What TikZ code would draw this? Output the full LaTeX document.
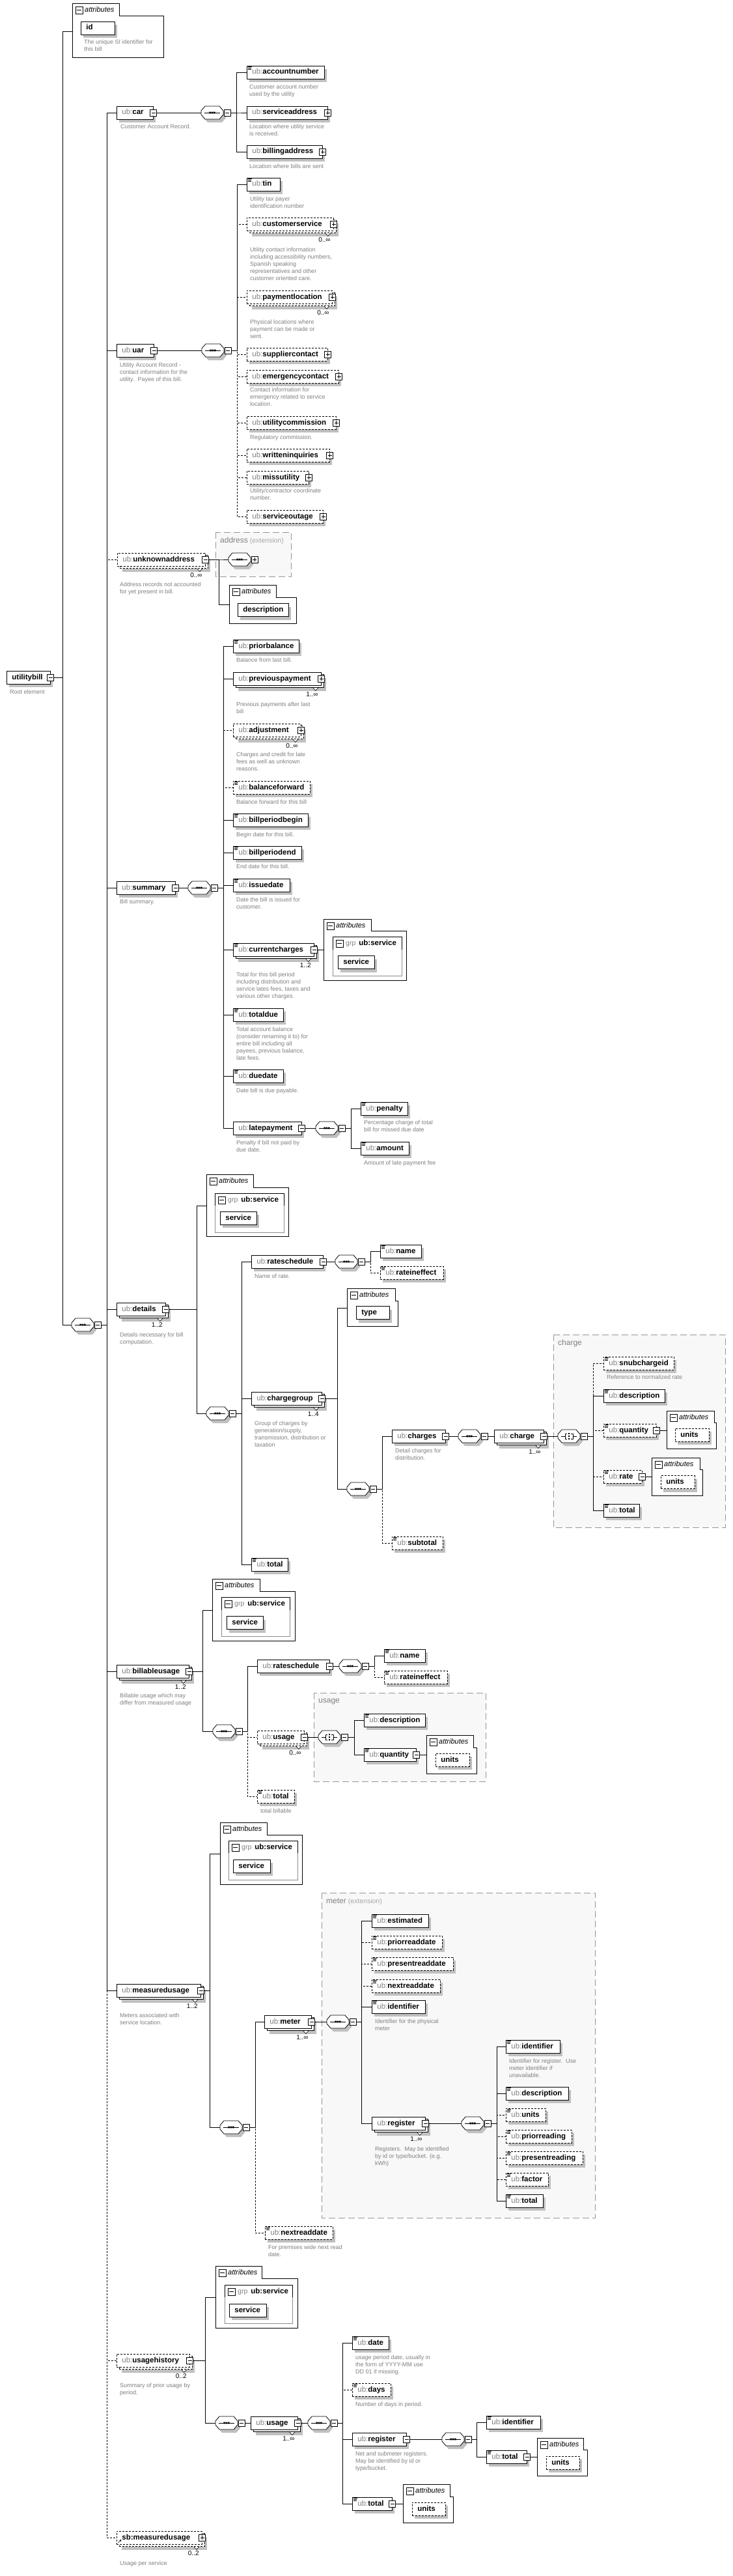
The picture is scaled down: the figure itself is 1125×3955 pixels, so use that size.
\documentclass[tikz,border=0pt]{standalone}
\usepackage{fontspec}
\setmainfont{Liberation Sans}
\usetikzlibrary{shadows}
\definecolor{shg}{RGB}{192,192,192}
\definecolor{pfx}{RGB}{128,128,128}
\definecolor{dsc}{RGB}{128,128,128}
\definecolor{extfill}{RGB}{248,248,248}
\definecolor{extline}{RGB}{150,150,150}
\definecolor{grpline}{RGB}{140,140,140}
\newcommand\lblfont{\fontsize{11.5}{13}\selectfont\bfseries}
\newcommand\xUB[1]{{\mdseries\color{pfx}ub:}#1}
\tikzset{
  elbox/.style={draw, fill=white, anchor=west, minimum height=20pt, inner xsep=8pt, inner ysep=0pt,
    text height=8.5pt, text depth=2.5pt, align=left, font=\lblfont, line width=0.8pt},
  sgl/.style={drop shadow={shadow xshift=4pt, shadow yshift=-5pt, fill=shg, opacity=1}},
  mult/.style={drop shadow={shadow xshift=7.5pt, shadow yshift=-8.5pt, fill=shg, opacity=1},
    copy shadow={shadow xshift=3.5pt, shadow yshift=-3.5pt, draw=black, fill=white, line width=0.8pt, solid}},
  multo/.style={drop shadow={shadow xshift=7.5pt, shadow yshift=-8.5pt, fill=shg, opacity=1},
    copy shadow={shadow xshift=3.5pt, shadow yshift=-3.5pt, draw=black, fill=white, line width=0.8pt, dash pattern=on 3pt off 2pt}},
  opt/.style={dash pattern=on 3pt off 2pt},
  pmbox/.style={draw, fill=white, line width=0.9pt, minimum size=10pt, inner sep=0pt, solid},
  minus/.style={path picture={\draw[line width=0.8pt] ([xshift=2pt]path picture bounding box.west) -- ([xshift=-2pt]path picture bounding box.east);}},
  plus/.style={path picture={\draw[line width=0.8pt] ([xshift=2pt]path picture bounding box.west) -- ([xshift=-2pt]path picture bounding box.east); \draw[line width=0.8pt] ([yshift=-2pt]path picture bounding box.north) -- ([yshift=2pt]path picture bounding box.south);}},
  comp/.style={rectangle, anchor=west, minimum width=34pt, minimum height=20pt, inner sep=0pt},
  desc/.style={anchor=north west, inner sep=0pt, align=left, font=\fontsize{9}{11}\selectfont, text=dsc},
  multtxt/.style={anchor=east, inner sep=0pt, font=\fontsize{10}{12}\selectfont},
  con/.style={line width=0.8pt},
  cono/.style={line width=0.8pt, dash pattern=on 3pt off 2pt},
  extbox/.style={draw=extline, fill=extfill, line width=0.8pt, dash pattern=on 10pt off 5pt},
  attrtxt/.style={anchor=west, inner sep=0pt, font=\fontsize{11}{13}\selectfont\itshape},
}
\newcommand\xEl[6][]{%
  \pgfmathsetmacro\tw{#5-#3-16}%
  \node[elbox,#1,text width=\tw pt] (#2) at (#3,#4) {#6};}
\newcommand\xPM[2]{\node[pmbox,#2] (#1-pm) at (#1.east) {};}
\newcommand\xEq[1]{\draw[line width=0.6pt,solid] ([shift={(1.5,1.5)}]#1.north west) -- ++(6,0) ([shift={(1.5,3.4)}]#1.north west) -- ++(5,0) ([shift={(1.5,5.3)}]#1.north west) -- ++(5,0);}
\newcommand\xMu[2]{%
  \draw[line width=0.6pt, fill=white, solid] ([shift={(-13,3.6)}]#1.south east) -- ([shift={(-9,8)}]#1.south east) -- ([shift={(-5,3.6)}]#1.south east);
  \node[multtxt] (#1-mul) at ([shift={(-5,14)}]#1.south east) {#2};}
\newcommand\xDs[4]{\node[desc] (#1) at (#2,#3-6) {\rule{0pt}{8.5pt}#4};}
\newcommand\xsymseq{\draw[line width=0.8pt] (5,0) -- (29,0); \fill (12.3,-1.3) rectangle ++(2.6,2.6) (15.7,-1.3) rectangle ++(2.6,2.6) (19.1,-1.3) rectangle ++(2.6,2.6);}
\newcommand\xsymchc{\draw[line width=0.8pt] (5,0) -- (11,0) (14,-4) -- (11,-4) -- (11,4) -- (14,4) (20,-4) -- (23,-4) -- (23,4) -- (20,4) (23,0) -- (29,0); \fill (16,-5) rectangle ++(2,2) (16,-1) rectangle ++(2,2) (16,3) rectangle ++(2,2);}
\newcommand\xComp[5]{%
  \node[comp] (#1) at (#2,#3) {};
  \begin{scope}[shift={(#1.west)}]
    \fill[shg] (4,2) -- (10,-5) -- (32,-5) -- (38,2) -- (38,8) -- (32,15) -- (10,15) -- (4,8) -- cycle;
    \draw[fill=white, line width=0.8pt] (0,-3) -- (6,-10) -- (28,-10) -- (34,-3) -- (34,3) -- (28,10) -- (6,10) -- (0,3) -- cycle;
    \csname xsym#4\endcsname
  \end{scope}
  \node[pmbox,#5,anchor=west] (#1-pm) at ([xshift=0.5pt]#1.east) {};}
\newcommand\xAttr[8]{%
  \draw[line width=0.8pt, fill=white] (#2,#3) -- (#4,#3) -- (#4,#5) -- (#6,#5) -- (#6,#7) -- (#2,#7) -- cycle;
  \node[pmbox,minus,minimum size=11pt] (#1-pm) at (#2+10.5,#3+10.5) {};
  \node[attrtxt] (#1-t) at (#2+19,#3+10) {attributes};
  \coordinate (#1) at (#2,#8);}
\newcommand\xGrp[6]{%
  \draw[draw=grpline, line width=0.8pt] (#2,#3) rectangle (#4,#5);
  \draw[line width=0.8pt] (#2,#6) -- (#2,#3) -- (#4,#3) -- (#4,#6);
  \node[pmbox,minus,minimum size=11pt] (#1-pm) at (#2+10.5,#3+10.5) {};
  \node[anchor=west,inner sep=0pt] (#1-t) at (#2+20,#3+10) {{\fontsize{10.5}{12}\selectfont\color{pfx}grp}\hspace{5pt}{\lblfont ub:service}};}
\newcommand\xExt[6]{\draw[extbox] (#2,#3) rectangle (#4,#5); \node[anchor=west,inner sep=0pt] (#1) at (#2+7,#3+13.5) {#6};}
\newcommand\xCs[3]{\draw[con] (#1) -- (#2) |- (#3);}
\newcommand\xCd[3]{\draw[cono] (#1) -- (#2) |- (#3);}
\newcommand\xLn[2]{\draw[con] (#1) -- (#2);}
\newcommand\extA[1]{{\fontsize{12}{14}\selectfont\color{pfx}#1}}
\newcommand\extB{\hspace{3pt}{\fontsize{10.5}{12}\selectfont\color{pfx!70}(extension)}}
\begin{document}
\begin{tikzpicture}[x=1pt,y=-1pt]
\useasboundingbox (0,0) rectangle (1125,3955);
\fill[white] (0,0) rectangle (1125,3955);
% extension boxes
\xExt{addrext}{331}{817}{447}{885}{\extA{address}\extB}
\xExt{chargeext}{850}{2049}{1114}{2345}{\extA{charge}}
\xExt{usageext}{482}{2599}{746}{2735}{\extA{usage}}
\xExt{meterext}{494}{2906}{914}{3405}{\extA{meter}\extB}
% root
\xEl[sgl]{root}{10}{1040}{77}{utilitybill}\xPM{root}{minus}
\xDs{d-root}{15}{1063}{Root element}
\xAttr{rattr}{111}{5}{183}{24}{251}{88}{48}
\xEl[sgl]{id}{124}{43}{176}{id}
\xDs{d-id}{129}{65}{The unique SI identifier for\\this bill}
\xComp{rseq}{110}{2034}{seq}{minus}
\coordinate (rj) at (96,1040);
\coordinate (mj) at (164,2034);
% car
\xEl[sgl]{car}{179}{173}{235}{\xUB{car}}\xPM{car}{minus}
\xDs{d-car}{185}{195}{Customer Account Record.}
\xComp{carseq}{309}{173}{seq}{minus}
\coordinate (cj) at (363,173);
\xEl[sgl]{acct}{379}{111}{498}{\xUB{accountnumber}}\xEq{acct}
\xDs{d-acct}{383}{134}{Customer account number\\used by the utility}
\xEl[sgl]{svcaddr}{379}{173}{503}{\xUB{serviceaddress}}\xPM{svcaddr}{plus}
\xDs{d-svcaddr}{383}{195}{Location where utility service\\is received.}
\xEl[sgl]{billaddr}{379}{233}{495}{\xUB{billingaddress}}\xPM{billaddr}{plus}
\xDs{d-billaddr}{383}{256}{Location where bills are sent}
% uar
\xEl[sgl]{uar}{179}{538}{236}{\xUB{uar}}\xPM{uar}{minus}
\xDs{d-uar}{184}{561}{Utility Account Record -\\contact information for the\\utility.\ \ Payee of this bill.}
\xComp{uarseq}{310}{538}{seq}{minus}
\coordinate (uj) at (364,538);
\xEl[sgl]{tin}{379}{283}{430}{\xUB{tin}}\xEq{tin}
\xDs{d-tin}{384}{306}{Utility tax payer\\identification number}
\xEl[opt,multo]{custsvc}{379}{344}{512}{\xUB{customerservice}}\xPM{custsvc}{plus}\xMu{custsvc}{0..∞}
\xDs{d-custsvc}{384}{384}{Utility contact information\\including accessibility numbers,\\Spanish speaking\\representatives and other\\customer oriented care.}
\xEl[opt,multo]{payloc}{379}{456}{510}{\xUB{paymentlocation}}\xPM{payloc}{plus}\xMu{payloc}{0..∞}
\xDs{d-payloc}{384}{495}{Physical locations where\\payment can be made or\\sent.}
\xEl[opt,sgl]{supp}{379}{544}{503}{\xUB{suppliercontact}}\xPM{supp}{plus}
\xEl[opt,sgl]{emerg}{379}{578}{520}{\xUB{emergencycontact}}\xPM{emerg}{plus}
\xDs{d-emerg}{384}{599}{Contact information for\\emergency related to service\\location.}
\xEl[opt,sgl]{ucomm}{379}{649}{516}{\xUB{utilitycommission}}\xPM{ucomm}{plus}
\xDs{d-ucomm}{384}{672}{Regulatory commission.}
\xEl[opt,sgl]{winq}{379}{699}{506}{\xUB{writteninquiries}}\xPM{winq}{plus}
\xEl[opt,sgl]{miss}{379}{733}{474}{\xUB{missutility}}\xPM{miss}{plus}
\xDs{d-miss}{384}{754}{Utility/contractor coordinate\\number.}
\xEl[opt,sgl]{outage}{379}{793}{496}{\xUB{serviceoutage}}\xPM{outage}{plus}
% unknownaddress
\xEl[opt,multo]{unk}{180}{859}{315}{\xUB{unknownaddress}}\xPM{unk}{minus}\xMu{unk}{0..∞}
\xDs{d-unk}{184}{898}{Address records not accounted\\for yet present in bill.}
\coordinate (aj) at (336,859);
\xComp{addrseq}{351}{859}{seq}{plus}
\xAttr{unkattr}{352}{898}{424}{917}{455}{957}{928}
\xEl[sgl]{unkdesc}{365}{936.5}{443}{description}
% summary
\xEl[sgl]{sum}{179}{1363}{269}{\xUB{summary}}\xPM{sum}{minus}
\xDs{d-sum}{184}{1385}{Bill summary.}
\xComp{sumseq}{289}{1363}{seq}{minus}
\coordinate (sj) at (343,1363);
\xEl[sgl]{prior}{358}{992}{459}{\xUB{priorbalance}}\xEq{prior}
\xDs{d-prior}{363}{1014}{Balance from last bill.}
\xEl[mult]{prevpay}{358}{1042}{493}{\xUB{previouspayment}}\xPM{prevpay}{plus}\xMu{prevpay}{1..∞}
\xDs{d-prevpay}{363}{1082}{Previous payments after last\\bill}
\xEl[opt,multo]{adj}{358}{1121}{462}{\xUB{adjustment}}\xPM{adj}{plus}\xMu{adj}{0..∞}
\xDs{d-adj}{363}{1159}{Charges and credit for late\\fees as well as unknown\\reasons.}
\xEl[opt,sgl]{balfwd}{358}{1209}{476}{\xUB{balanceforward}}\xEq{balfwd}
\xDs{d-balfwd}{363}{1232}{Balance forward for this bill}
\xEl[sgl]{bpbegin}{358}{1259}{473}{\xUB{billperiodbegin}}\xEq{bpbegin}
\xDs{d-bpbegin}{363}{1282}{Begin date for this bill.}
\xEl[sgl]{bpend}{358}{1309}{463}{\xUB{billperiodend}}\xEq{bpend}
\xDs{d-bpend}{363}{1331}{End date for this bill.}
\xEl[sgl]{issue}{358}{1359}{445}{\xUB{issuedate}}\xEq{issue}
\xDs{d-issue}{363}{1382}{Date the bill is issued for\\customer.}
\xEl[mult]{curch}{358}{1458}{482}{\xUB{currentcharges}}\xEq{curch}\xPM{curch}{minus}\xMu{curch}{1..2}
\xDs{d-curch}{363}{1497}{Total for this bill period\\including distribution and\\service lates fees, taxes and\\various other charges.}
\xAttr{ccattr}{497}{1411}{570}{1429}{624}{1505}{1458}
\xGrp{ccgrp}{511}{1438}{617}{1498}{1458}
\xEl[sgl]{ccsvc}{519}{1477.5}{575}{service}
\xEl[sgl]{totdue}{358}{1558}{435}{\xUB{totaldue}}\xEq{totdue}
\xDs{d-totdue}{363}{1581}{Total account balance\\(consider renaming it to) for\\entire bill including all\\payees, previous balance,\\late fees.}
\xEl[sgl]{duedate}{358}{1652}{435}{\xUB{duedate}}\xEq{duedate}
\xDs{d-duedate}{363}{1675}{Date bill is due payable.}
\xEl[sgl]{latepay}{358}{1732}{463}{\xUB{latepayment}}\xPM{latepay}{minus}
\xDs{d-latepay}{363}{1755}{Penalty if bill not paid by\\due date.}
\xComp{lpseq}{485}{1732}{seq}{minus}
\coordinate (lj) at (539,1732);
\xEl[sgl]{penalty}{554}{1702}{626}{\xUB{penalty}}\xEq{penalty}
\xDs{d-penalty}{559}{1724}{Percentage charge of total\\bill for missed due date}
\xEl[sgl]{amount}{554}{1763}{628}{\xUB{amount}}\xEq{amount}
\xDs{d-amount}{559}{1786}{Amount of late payment fee}
% details
\xEl[mult]{det}{179}{2010}{254}{\xUB{details}}\xPM{det}{minus}\xMu{det}{1..2}
\xDs{d-det}{184}{2050}{Details necessary for bill\\computation.}
\coordinate (dj) at (302,2010);
\xAttr{detattr}{317}{1803}{389}{1823}{443}{1898}{1851}
\xGrp{detgrp}{330}{1832}{436}{1892}{1851}
\xEl[sgl]{detsvc}{338}{1870}{394}{service}
\xComp{detseq}{317}{2170}{seq}{minus}
\coordinate (dsj) at (371,2170);
\xEl[sgl]{rs}{386}{1937}{496}{\xUB{rateschedule}}\xPM{rs}{minus}
\xDs{d-rs}{391}{1960}{Name of rate.}
\xComp{rsseq}{515}{1937}{seq}{minus}
\coordinate (rsj) at (569,1937);
\xEl[sgl]{rsname}{584}{1921}{647}{\xUB{name}}\xEq{rsname}
\xEl[opt,sgl]{rsrie}{584}{1954}{681}{\xUB{rateineffect}}\xEq{rsrie}
\xEl[mult]{cg}{386}{2147}{494}{\xUB{chargegroup}}\xPM{cg}{minus}\xMu{cg}{1..4}
\xDs{d-cg}{391}{2186}{Group of charges by\\generation/supply,\\transmission, distribution or\\taxation}
\coordinate (cgj) at (518,2147);
\xAttr{cgattr}{533}{1978}{607}{1997}{611}{2036}{2008}
\xEl[sgl]{cgtype}{547}{2015.5}{598}{type}
\xComp{cgseq}{533}{2286}{seq}{minus}
\coordinate (cgsj) at (587,2286);
\xEl[sgl]{charges}{602}{2205}{684}{\xUB{charges}}\xPM{charges}{minus}
\xDs{d-charges}{607}{2228}{Detail charges for\\distribution.}
\xComp{chseq}{704}{2205}{seq}{minus}
\xEl[mult]{charge}{759}{2205}{835}{\xUB{charge}}\xPM{charge}{minus}\xMu{charge}{1..∞}
\xComp{chchc}{857}{2205}{chc}{minus}
\coordinate (chj) at (911,2205);
\xEl[opt,sgl]{snub}{927}{2093}{1035}{\xUB{snubchargeid}}\xEq{snub}
\xDs{d-snub}{932}{2115}{Reference to normalized rate}
\xEl[sgl]{chdesc}{927}{2143}{1021}{\xUB{description}}\xEq{chdesc}
\xEl[opt,sgl]{chqty}{927}{2196}{1008}{\xUB{quantity}}\xEq{chqty}\xPM{chqty}{minus}
\xAttr{qattr}{1024}{2166}{1097}{2184}{1100}{2224}{2196}
\xEl[opt,sgl]{qunits}{1037}{2203}{1089}{units}
\xEl[opt,sgl]{chrate}{927}{2267}{986}{\xUB{rate}}\xEq{chrate}\xPM{chrate}{minus}
\xAttr{rtattr}{1001}{2238}{1075}{2256}{1079}{2296}{2267}
\xEl[opt,sgl]{runits}{1015}{2275.5}{1067}{units}
\xEl[sgl]{chtotal}{927}{2319}{982}{\xUB{total}}\xEq{chtotal}
\xEl[opt,sgl]{subtot}{602}{2369}{680}{\xUB{subtotal}}\xEq{subtot}
\xEl[sgl]{dettot}{386}{2402}{442}{\xUB{total}}\xEq{dettot}
% billableusage
\xEl[mult]{bu}{179}{2566}{290}{\xUB{billableusage}}\xPM{bu}{minus}\xMu{bu}{1..2}
\xDs{d-bu}{184}{2604}{Billable usage which may\\differ from measured usage}
\coordinate (buj) at (311,2566);
\xAttr{buattr}{326}{2424}{399}{2443}{453}{2519}{2472}
\xGrp{bugrp}{340}{2452}{445}{2512}{2472}
\xEl[sgl]{busvc}{348}{2491.5}{404}{service}
\xComp{buseq}{327}{2658}{seq}{minus}
\coordinate (busj) at (380,2658);
\xEl[sgl]{burs}{395}{2558}{506}{\xUB{rateschedule}}\xPM{burs}{minus}
\xComp{bursseq}{521}{2558}{seq}{minus}
\coordinate (bursj) at (575,2558);
\xEl[sgl]{buname}{590}{2542}{653}{\xUB{name}}\xEq{buname}
\xEl[opt,sgl]{burie}{590}{2575}{687}{\xUB{rateineffect}}\xEq{burie}
\xEl[opt,multo]{buusage}{395}{2667}{467}{\xUB{usage}}\xPM{buusage}{minus}\xMu{buusage}{0..∞}
\xComp{buchc}{489}{2667}{chc}{minus}
\coordinate (buchj) at (544,2667);
\xEl[sgl]{budesc}{559}{2641}{653}{\xUB{description}}\xEq{budesc}
\xEl[sgl]{buqty}{559}{2694}{639}{\xUB{quantity}}\xEq{buqty}\xPM{buqty}{minus}
\xAttr{buqattr}{655}{2664}{727}{2683}{732}{2723}{2694}
\xEl[opt,sgl]{buunits}{669}{2702}{721}{units}
\xEl[opt,sgl]{butot}{395}{2758}{452}{\xUB{total}}\xEq{butot}
\xDs{d-butot}{400}{2781}{total billable}
% measuredusage
\xEl[mult]{mu}{179}{3056}{308}{\xUB{measuredusage}}\xPM{mu}{minus}\xMu{mu}{1..2}
\xDs{d-mu}{184}{3095}{Meters associated with\\service location.}
\coordinate (muj) at (322,3056);
\xAttr{muattr}{338}{2798}{410}{2817}{464}{2893}{2846}
\xGrp{mugrp}{351}{2826}{457}{2886}{2845}
\xEl[sgl]{musvc}{358}{2865}{415}{service}
\xComp{museq}{338}{3266}{seq}{minus}
\coordinate (musj) at (392,3266);
\xEl[mult]{meter}{406}{3104}{478}{\xUB{meter}}\xPM{meter}{minus}\xMu{meter}{1..∞}
\xComp{meterseq}{502}{3104}{seq}{minus}
\coordinate (mtj) at (555,3104);
\xEl[sgl]{est}{571}{2949}{658}{\xUB{estimated}}\xEq{est}
\xEl[opt,sgl]{prd}{571}{2982}{679}{\xUB{priorreaddate}}\xEq{prd}
\xEl[opt,sgl]{psd}{571}{3015}{696}{\xUB{presentreaddate}}\xEq{psd}
\xEl[opt,sgl]{nrd}{571}{3049}{676}{\xUB{nextreaddate}}\xEq{nrd}
\xEl[sgl]{mident}{571}{3081}{653}{\xUB{identifier}}\xEq{mident}
\xDs{d-mident}{576}{3104}{Identifier for the physical\\meter}
\xEl[mult]{reg}{571}{3260}{653}{\xUB{register}}\xPM{reg}{minus}\xMu{reg}{1..∞}
\xDs{d-reg}{576}{3300}{Registers.\ \ May be identified\\by id or type/bucket. (e.g.\\kWh)}
\xComp{regseq}{709}{3260}{seq}{minus}
\coordinate (rgj) at (763,3260);
\xEl[sgl]{rident}{777}{3142}{860}{\xUB{identifier}}\xEq{rident}
\xDs{d-rident}{782}{3165}{Identifier for register.\ \ Use\\meter identifier if\\unavailable.}
\xEl[sgl]{rdesc}{777}{3214}{873}{\xUB{description}}\xEq{rdesc}
\xEl[opt,sgl]{runit}{777}{3247}{838}{\xUB{units}}\xEq{runit}
\xEl[opt,sgl]{rprior}{777}{3280}{878}{\xUB{priorreading}}\xEq{rprior}
\xEl[opt,sgl]{rpres}{777}{3313}{895}{\xUB{presentreading}}\xEq{rpres}
\xEl[opt,sgl]{rfact}{777}{3346}{842}{\xUB{factor}}\xEq{rfact}
\xEl[sgl]{rtot}{777}{3379}{834}{\xUB{total}}\xEq{rtot}
\xEl[opt,sgl]{munrd}{407}{3428}{511}{\xUB{nextreaddate}}\xEq{munrd}
\xDs{d-munrd}{412}{3451}{For premises wide next read\\date.}
% usagehistory
\xEl[opt,multo]{uh}{179}{3624}{291}{\xUB{usagehistory}}\xPM{uh}{minus}\xMu{uh}{0..2}
\xDs{d-uh}{184}{3663}{Summary of prior usage by\\period.}
\coordinate (uhj) at (315,3624);
\xAttr{uhattr}{331}{3479}{402}{3498}{457}{3574}{3527}
\xGrp{uhgrp}{345}{3508}{449}{3567}{3527}
\xEl[sgl]{uhsvc}{352}{3547}{409}{service}
\xComp{uhseq}{331}{3720}{seq}{minus}
\xEl[mult]{uusage}{385}{3720}{457}{\xUB{usage}}\xPM{uusage}{minus}\xMu{uusage}{1..∞}
\xComp{uuseq}{473}{3720}{seq}{minus}
\coordinate (uuj) at (526,3720);
\xEl[sgl]{udate}{541}{3597}{597}{\xUB{date}}\xEq{udate}
\xDs{d-udate}{546}{3620}{usage period date, usually in\\the form of YYYY-MM use\\DD 01 if missing.}
\xEl[opt,sgl]{udays}{541}{3669}{600}{\xUB{days}}\xEq{udays}
\xDs{d-udays}{546}{3692}{Number of days in period.}
\xEl[sgl]{ureg}{541}{3745}{624}{\xUB{register}}\xPM{ureg}{minus}
\xDs{d-ureg}{546}{3768}{Net and submeter registers.\\May be identified by id or\\type/bucket.}
\xComp{uregseq}{679}{3745}{seq}{minus}
\coordinate (urj) at (732,3745);
\xEl[sgl]{urid}{747}{3719}{830}{\xUB{identifier}}\xEq{urid}
\xEl[sgl]{urtot}{747}{3772}{809}{\xUB{total}}\xEq{urtot}\xPM{urtot}{minus}
\xAttr{urtattr}{825}{3743}{896}{3761}{902}{3801}{3772}
\xEl[opt,sgl]{urtunits}{839}{3781}{890}{units}
\xEl[sgl]{utot}{541}{3844}{602}{\xUB{total}}\xEq{utot}\xPM{utot}{minus}
\xAttr{utattr}{619}{3814}{691}{3833}{696}{3873}{3844}
\xEl[opt,sgl]{utunits}{633}{3852}{684}{units}
% sb:measuredusage
\xEl[opt,multo]{sbmu}{179}{3896}{310}{sb:measuredusage}\xPM{sbmu}{plus}\xMu{sbmu}{0..2}
\draw[-stealth, line width=0.6pt] ([shift={(2.5,-2.5)}]sbmu.south west) -- ++(5,-5);
\xDs{d-sbmu}{184}{3936}{Usage per service}
% ===== dashed connectors
\xCd{rseq-pm.east}{mj}{unk.west}
\xCd{rseq-pm.east}{mj}{uh.west}
\xCd{rseq-pm.east}{mj}{sbmu.west}
\xCd{uarseq-pm.east}{uj}{custsvc.west}
\xCd{uarseq-pm.east}{uj}{payloc.west}
\xCd{uarseq-pm.east}{uj}{supp.west}
\xCd{uarseq-pm.east}{uj}{emerg.west}
\xCd{uarseq-pm.east}{uj}{ucomm.west}
\xCd{uarseq-pm.east}{uj}{winq.west}
\xCd{uarseq-pm.east}{uj}{miss.west}
\xCd{uarseq-pm.east}{uj}{outage.west}
\xCd{sumseq-pm.east}{sj}{adj.west}
\xCd{sumseq-pm.east}{sj}{balfwd.west}
\xCd{rsseq-pm.east}{rsj}{rsrie.west}
\xCd{cgseq-pm.east}{cgsj}{subtot.west}
\xCd{chchc-pm.east}{chj}{snub.west}
\xCd{chchc-pm.east}{chj}{chqty.west}
\xCd{chchc-pm.east}{chj}{chrate.west}
\xCd{buseq-pm.east}{busj}{buusage.west}
\xCd{buseq-pm.east}{busj}{butot.west}
\xCd{bursseq-pm.east}{bursj}{burie.west}
\xCd{meterseq-pm.east}{mtj}{prd.west}
\xCd{meterseq-pm.east}{mtj}{psd.west}
\xCd{meterseq-pm.east}{mtj}{nrd.west}
\xCd{regseq-pm.east}{rgj}{runit.west}
\xCd{regseq-pm.east}{rgj}{rprior.west}
\xCd{regseq-pm.east}{rgj}{rpres.west}
\xCd{regseq-pm.east}{rgj}{rfact.west}
\xCd{museq-pm.east}{musj}{munrd.west}
\xCd{uuseq-pm.east}{uuj}{udays.west}
% ===== solid connectors
\xCs{root-pm.east}{rj}{rattr}
\xCs{root-pm.east}{rj}{rseq.west}
\xCs{rseq-pm.east}{mj}{car.west}
\xCs{rseq-pm.east}{mj}{uar.west}
\xCs{rseq-pm.east}{mj}{sum.west}
\xCs{rseq-pm.east}{mj}{det.west}
\xCs{rseq-pm.east}{mj}{bu.west}
\xCs{rseq-pm.east}{mj}{mu.west}
\xLn{car-pm.east}{carseq.west}
\xCs{carseq-pm.east}{cj}{acct.west}
\xCs{carseq-pm.east}{cj}{svcaddr.west}
\xCs{carseq-pm.east}{cj}{billaddr.west}
\xLn{uar-pm.east}{uarseq.west}
\xCs{uarseq-pm.east}{uj}{tin.west}
\xCs{unk-pm.east}{aj}{addrseq.west}
\xCs{unk-pm.east}{aj}{unkattr}
\xLn{sum-pm.east}{sumseq.west}
\xCs{sumseq-pm.east}{sj}{prior.west}
\xCs{sumseq-pm.east}{sj}{prevpay.west}
\xCs{sumseq-pm.east}{sj}{bpbegin.west}
\xCs{sumseq-pm.east}{sj}{bpend.west}
\xCs{sumseq-pm.east}{sj}{issue.west}
\xCs{sumseq-pm.east}{sj}{curch.west}
\xCs{sumseq-pm.east}{sj}{totdue.west}
\xCs{sumseq-pm.east}{sj}{duedate.west}
\xCs{sumseq-pm.east}{sj}{latepay.west}
\xLn{curch-pm.east}{ccattr}
\xLn{latepay-pm.east}{lpseq.west}
\xCs{lpseq-pm.east}{lj}{penalty.west}
\xCs{lpseq-pm.east}{lj}{amount.west}
\xCs{det-pm.east}{dj}{detattr}
\xCs{det-pm.east}{dj}{detseq.west}
\xCs{detseq-pm.east}{dsj}{rs.west}
\xCs{detseq-pm.east}{dsj}{cg.west}
\xCs{detseq-pm.east}{dsj}{dettot.west}
\xLn{rs-pm.east}{rsseq.west}
\xCs{rsseq-pm.east}{rsj}{rsname.west}
\xCs{cg-pm.east}{cgj}{cgattr}
\xCs{cg-pm.east}{cgj}{cgseq.west}
\xCs{cgseq-pm.east}{cgsj}{charges.west}
\xLn{charges-pm.east}{chseq.west}
\xLn{chseq-pm.east}{charge.west}
\xLn{charge-pm.east}{chchc.west}
\xCs{chchc-pm.east}{chj}{chdesc.west}
\xCs{chchc-pm.east}{chj}{chtotal.west}
\xLn{chqty-pm.east}{qattr}
\xLn{chrate-pm.east}{rtattr}
\xCs{bu-pm.east}{buj}{buattr}
\xCs{bu-pm.east}{buj}{buseq.west}
\xCs{buseq-pm.east}{busj}{burs.west}
\xLn{burs-pm.east}{bursseq.west}
\xCs{bursseq-pm.east}{bursj}{buname.west}
\xLn{buusage-pm.east}{buchc.west}
\xCs{buchc-pm.east}{buchj}{budesc.west}
\xCs{buchc-pm.east}{buchj}{buqty.west}
\xLn{buqty-pm.east}{buqattr}
\xCs{mu-pm.east}{muj}{muattr}
\xCs{mu-pm.east}{muj}{museq.west}
\xCs{museq-pm.east}{musj}{meter.west}
\xLn{meter-pm.east}{meterseq.west}
\xCs{meterseq-pm.east}{mtj}{est.west}
\xCs{meterseq-pm.east}{mtj}{mident.west}
\xCs{meterseq-pm.east}{mtj}{reg.west}
\xLn{reg-pm.east}{regseq.west}
\xCs{regseq-pm.east}{rgj}{rident.west}
\xCs{regseq-pm.east}{rgj}{rdesc.west}
\xCs{regseq-pm.east}{rgj}{rtot.west}
\xCs{uh-pm.east}{uhj}{uhattr}
\xCs{uh-pm.east}{uhj}{uhseq.west}
\xLn{uhseq-pm.east}{uusage.west}
\xLn{uusage-pm.east}{uuseq.west}
\xCs{uuseq-pm.east}{uuj}{udate.west}
\xCs{uuseq-pm.east}{uuj}{ureg.west}
\xCs{uuseq-pm.east}{uuj}{utot.west}
\xLn{ureg-pm.east}{uregseq.west}
\xCs{uregseq-pm.east}{urj}{urid.west}
\xCs{uregseq-pm.east}{urj}{urtot.west}
\xLn{urtot-pm.east}{urtattr}
\xLn{utot-pm.east}{utattr}
\end{tikzpicture}
\end{document}
